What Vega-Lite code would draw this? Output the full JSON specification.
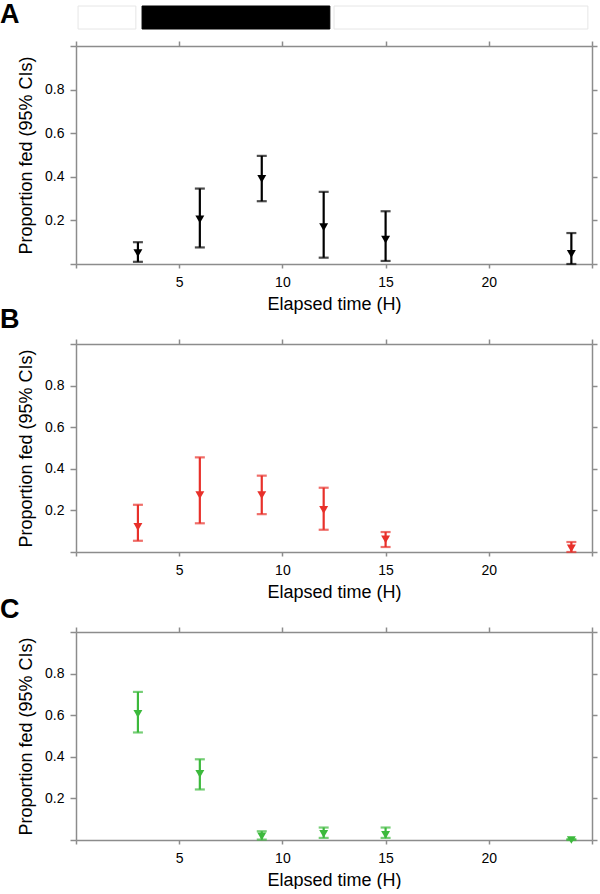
{
  "$schema": "https://vega.github.io/schema/vega-lite/v6.json",
  "padding": {"left": 0, "top": 0, "right": 0, "bottom": 0},
  "config": {
    "view": {"stroke": null},
    "font": "Liberation Sans",
    "axis": {
      "grid": false,
      "domainColor": "#8c8c8c",
      "tickColor": "#8c8c8c",
      "domainWidth": 1.5,
      "tickWidth": 1.5,
      "labelFontSize": 14,
      "labelColor": "#000000",
      "titleFontSize": 18,
      "titleFontWeight": "normal",
      "titleColor": "#000000",
      "labelFont": "Liberation Sans",
      "titleFont": "Liberation Sans"
    },
    "title": {"fontSize": 27, "fontWeight": "bold", "anchor": "start", "frame": "group", "color": "#000000", "font": "Liberation Sans"}
  },
  "datasets": {
    "cycle": [
      {"period": "light", "start": 0.1, "end": 2.9},
      {"period": "dark", "start": 3.2, "end": 12.3},
      {"period": "light", "start": 12.5, "end": 24.8}
    ],
    "props": [
      {"panel": "A", "time": 3, "prop": 0.05, "lower": 0.01, "upper": 0.1},
      {"panel": "A", "time": 6, "prop": 0.205, "lower": 0.076, "upper": 0.346},
      {"panel": "A", "time": 9, "prop": 0.39, "lower": 0.288, "upper": 0.496},
      {"panel": "A", "time": 12, "prop": 0.169, "lower": 0.029, "upper": 0.331},
      {"panel": "A", "time": 15, "prop": 0.112, "lower": 0.014, "upper": 0.242},
      {"panel": "A", "time": 24, "prop": 0.046, "lower": 0.0, "upper": 0.142},
      {"panel": "B", "time": 3, "prop": 0.121, "lower": 0.054, "upper": 0.227},
      {"panel": "B", "time": 6, "prop": 0.274, "lower": 0.138, "upper": 0.455},
      {"panel": "B", "time": 9, "prop": 0.274, "lower": 0.182, "upper": 0.367},
      {"panel": "B", "time": 12, "prop": 0.202, "lower": 0.107, "upper": 0.309},
      {"panel": "B", "time": 15, "prop": 0.061, "lower": 0.024, "upper": 0.096},
      {"panel": "B", "time": 24, "prop": 0.017, "lower": 0.0, "upper": 0.048},
      {"panel": "C", "time": 3, "prop": 0.606, "lower": 0.517, "upper": 0.712},
      {"panel": "C", "time": 6, "prop": 0.318, "lower": 0.243, "upper": 0.388},
      {"panel": "C", "time": 9, "prop": 0.018, "lower": 0.002, "upper": 0.042},
      {"panel": "C", "time": 12, "prop": 0.029, "lower": 0.01, "upper": 0.06},
      {"panel": "C", "time": 15, "prop": 0.025, "lower": 0.01, "upper": 0.06},
      {"panel": "C", "time": 24, "prop": 0.0, "lower": 0.0, "upper": 0.004}
    ]
  },
  "bounds": "flush",
  "spacing": 17,
  "vconcat": [
    {
      "width": 516,
      "height": 23,
      "title": {"text": "A", "dx": -76, "dy": 23, "offset": 0},
      "data": {"name": "cycle"},
      "mark": {"type": "rect", "strokeWidth": 1},
      "encoding": {
        "x": {"field": "start", "type": "quantitative", "scale": {"domain": [0, 25], "nice": false, "zero": false}, "axis": null},
        "x2": {"field": "end"},
        "fill": {"field": "period", "type": "nominal", "scale": {"domain": ["light", "dark"], "range": ["#ffffff", "#000000"]}, "legend": null},
        "stroke": {"field": "period", "type": "nominal", "scale": {"domain": ["light", "dark"], "range": ["#e6e6e6", "#000000"]}, "legend": null}
      }
    },
    {
      "bounds": "flush",
      "spacing": 80,
      "vconcat": [
        {
          "width": 516,
          "height": 218,
          "data": {"name": "props"},
          "transform": [{"filter": "datum.panel == 'A'"}],
          "layer": [
            {
              "mark": {"type": "errorbar", "ticks": {"size": 10, "thickness": 2.2}, "thickness": 2.2, "color": "#000000"},
              "encoding": {
                "x": {"field": "time", "type": "quantitative", "scale": {"domain": [0, 25], "nice": false, "zero": false},
                  "axis": {"orient": "bottom", "values": [0, 5, 10, 15, 20, 25], "labelExpr": "datum.value == 0 || datum.value == 25 ? '' : datum.label", "tickSize": 4, "labelPadding": 7, "labelFlush": false, "title": "Elapsed time (H)", "titlePadding": 6}},
                "y": {"field": "lower", "type": "quantitative", "scale": {"domain": [0, 1], "nice": false},
                  "axis": {"orient": "left", "values": [0, 0.2, 0.4, 0.6, 0.8, 1], "format": ".1f", "labelExpr": "datum.value == 0 || datum.value == 1 ? '' : datum.label", "tickSize": 6, "labelPadding": 6, "title": "Proportion fed (95% CIs)", "titlePadding": 9}},
                "y2": {"field": "upper"}
              }
            },
            {
              "mark": {"type": "point", "shape": "triangle-down", "filled": true, "size": 80, "color": "#000000", "opacity": 1},
              "encoding": {
                "x": {"field": "time", "type": "quantitative", "scale": {"domain": [0, 25], "nice": false, "zero": false},
                  "axis": {"orient": "top", "values": [0, 5, 10, 15, 20, 25], "labels": false, "tickSize": 5, "title": null}},
                "y": {"field": "prop", "type": "quantitative", "scale": {"domain": [0, 1], "nice": false},
                  "axis": {"orient": "right", "values": [0, 0.2, 0.4, 0.6, 0.8, 1], "labels": false, "tickSize": 5, "title": null}}
              }
            }
          ],
          "resolve": {"axis": {"x": "independent", "y": "independent"}}
        },
        {
          "width": 516,
          "height": 208,
          "title": {"text": "B", "dx": -76, "offset": 4},
          "data": {"name": "props"},
          "transform": [{"filter": "datum.panel == 'B'"}],
          "layer": [
            {
              "mark": {"type": "errorbar", "ticks": {"size": 10, "thickness": 2.2}, "thickness": 2.2, "color": "#e8302a"},
              "encoding": {
                "x": {"field": "time", "type": "quantitative", "scale": {"domain": [0, 25], "nice": false, "zero": false},
                  "axis": {"orient": "bottom", "values": [0, 5, 10, 15, 20, 25], "labelExpr": "datum.value == 0 || datum.value == 25 ? '' : datum.label", "tickSize": 4, "labelPadding": 7, "labelFlush": false, "title": "Elapsed time (H)", "titlePadding": 6}},
                "y": {"field": "lower", "type": "quantitative", "scale": {"domain": [0, 1], "nice": false},
                  "axis": {"orient": "left", "values": [0, 0.2, 0.4, 0.6, 0.8, 1], "format": ".1f", "labelExpr": "datum.value == 0 || datum.value == 1 ? '' : datum.label", "tickSize": 6, "labelPadding": 6, "title": "Proportion fed (95% CIs)", "titlePadding": 9}},
                "y2": {"field": "upper"}
              }
            },
            {
              "mark": {"type": "point", "shape": "triangle-down", "filled": true, "size": 80, "color": "#e8302a", "opacity": 1},
              "encoding": {
                "x": {"field": "time", "type": "quantitative", "scale": {"domain": [0, 25], "nice": false, "zero": false},
                  "axis": {"orient": "top", "values": [0, 5, 10, 15, 20, 25], "labels": false, "tickSize": 5, "title": null}},
                "y": {"field": "prop", "type": "quantitative", "scale": {"domain": [0, 1], "nice": false},
                  "axis": {"orient": "right", "values": [0, 0.2, 0.4, 0.6, 0.8, 1], "labels": false, "tickSize": 5, "title": null}}
              }
            }
          ],
          "resolve": {"axis": {"x": "independent", "y": "independent"}}
        },
        {
          "width": 516,
          "height": 208,
          "title": {"text": "C", "dx": -76, "offset": 2},
          "data": {"name": "props"},
          "transform": [{"filter": "datum.panel == 'C'"}],
          "layer": [
            {
              "mark": {"type": "errorbar", "ticks": {"size": 10, "thickness": 2.2}, "thickness": 2.2, "color": "#3cb93c"},
              "encoding": {
                "x": {"field": "time", "type": "quantitative", "scale": {"domain": [0, 25], "nice": false, "zero": false},
                  "axis": {"orient": "bottom", "values": [0, 5, 10, 15, 20, 25], "labelExpr": "datum.value == 0 || datum.value == 25 ? '' : datum.label", "tickSize": 4, "labelPadding": 7, "labelFlush": false, "title": "Elapsed time (H)", "titlePadding": 6}},
                "y": {"field": "lower", "type": "quantitative", "scale": {"domain": [0, 1], "nice": false},
                  "axis": {"orient": "left", "values": [0, 0.2, 0.4, 0.6, 0.8, 1], "format": ".1f", "labelExpr": "datum.value == 0 || datum.value == 1 ? '' : datum.label", "tickSize": 6, "labelPadding": 6, "title": "Proportion fed (95% CIs)", "titlePadding": 9}},
                "y2": {"field": "upper"}
              }
            },
            {
              "mark": {"type": "point", "shape": "triangle-down", "filled": true, "size": 80, "color": "#3cb93c", "opacity": 1},
              "encoding": {
                "x": {"field": "time", "type": "quantitative", "scale": {"domain": [0, 25], "nice": false, "zero": false},
                  "axis": {"orient": "top", "values": [0, 5, 10, 15, 20, 25], "labels": false, "tickSize": 5, "title": null}},
                "y": {"field": "prop", "type": "quantitative", "scale": {"domain": [0, 1], "nice": false},
                  "axis": {"orient": "right", "values": [0, 0.2, 0.4, 0.6, 0.8, 1], "labels": false, "tickSize": 5, "title": null}}
              }
            }
          ],
          "resolve": {"axis": {"x": "independent", "y": "independent"}}
        }
      ]
    }
  ]
}
